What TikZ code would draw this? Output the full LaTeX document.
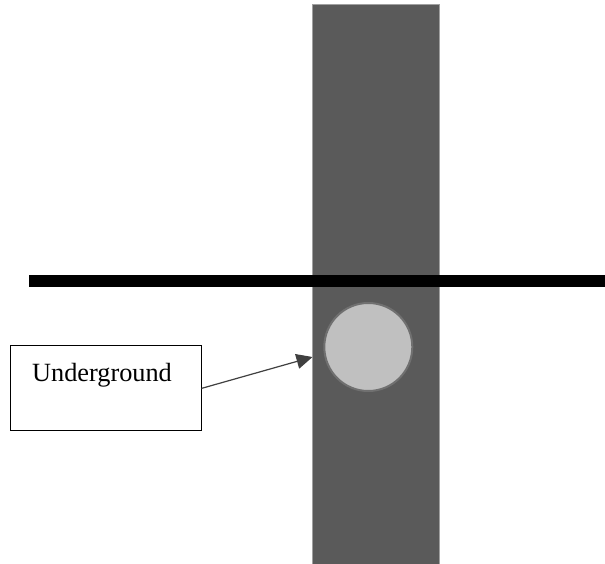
\documentclass[tikz,border=0pt]{standalone}
\usepackage{fontspec}
\setmainfont{Liberation Serif}
\usetikzlibrary{arrows.meta}
\definecolor{bardark}{HTML}{5A5A5A}
\definecolor{baredge}{HTML}{A0A0A0}
\definecolor{circfill}{HTML}{C0C0C0}
\definecolor{circedge}{HTML}{707070}
\definecolor{arrowcol}{HTML}{404040}
\begin{document}
\begin{tikzpicture}[x=1pt,y=-1pt,
  bar/.style={fill=bardark,draw=baredge,line width=0.8pt},
  ground/.style={line width=11.5pt,black},
  stone/.style={circle,fill=circfill,draw=circedge,line width=2pt,minimum size=88pt,inner sep=0pt},
  labelbox/.style={draw=black,line width=1pt,minimum width=191pt,minimum height=85pt,inner sep=0pt},
  pointer/.style={draw=arrowcol,line width=1.2pt,-{Triangle[length=16pt,width=15pt]}}]
\useasboundingbox (0,0) rectangle (605,564);
\fill[white] (0,0) rectangle (605,564);
\path[bar] (312,4.3) rectangle (439.5,570);
\draw[ground] (29,281) -- (605,281);
\node[stone] (stone) at (368.3,347) {};
\node[labelbox] (box) at (105.5,388.4) {};
\node[font=\fontsize{26.3}{30}\selectfont,inner sep=0pt] (lbl) at (102,375) {Underground};
\coordinate (tip) at (312.5,357);
\draw[pointer] (box.east) -- (tip);
\end{tikzpicture}
\end{document}
